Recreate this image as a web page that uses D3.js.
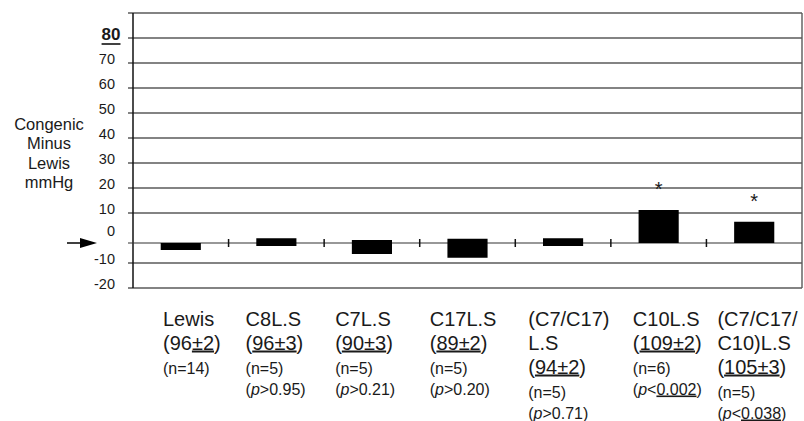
<!DOCTYPE html>
<html>
<head>
<meta charset="utf-8">
<script src="https://cdn.jsdelivr.net/npm/d3@7"></script>
<style>
  body { margin: 0; background: #fff; }
  text { fill: #1a1a1a; }
</style>
</head>
<body>
<script>
// data
const categories = ["Lewis", "C8L.S", "C7L.S", "C17L.S", "(C7/C17)L.S", "C10L.S", "(C7/C17/C10)L.S"];
const nameLines = [["Lewis"], ["C8L.S"], ["C7L.S"], ["C17L.S"], ["(C7/C17)", "L.S"], ["C10L.S"], ["(C7/C17/", "C10)L.S"]];
const meanBP = [96, 96, 90, 89, 94, 109, 105];
const semBP = [2, 3, 3, 2, 2, 2, 3];
const nRats = [14, 5, 5, 5, 5, 6, 5];
const pValues = [null, ">0.95", ">0.21", ">0.20", ">0.71", "<0.002", "<0.038"];
const barHigh = [-2, -0.1, -0.8, -0.3, -0.1, 11.2, 6.5];
const barLow = [-4.8, -3.2, -6.4, -7.9, -3.2, -2, -2];
const significant = [false, false, false, false, false, true, true];
const baselineValue = -2;
const gridValues = [90, 80, 70, 60, 50, 40, 30, 20, 10, -10, -20];
const tickLabels = [80, 70, 60, 50, 40, 30, 20, 10, 0, -10, -20];
const yTitle = ["Congenic", "Minus", "Lewis", "mmHg"];

// layout
const W = 804, H = 421;
const plotLeft = 133, plotRight = 802, plotTop = 13, plotBottom = 288;
const labelDx = [30, 17, 11, 10, 13, 22, 11];

const svg = d3.select("body").append("svg")
    .attr("width", W)
    .attr("height", H)
    .style("font-family", "'Liberation Sans', Arial, sans-serif");

const y = d3.scaleLinear().domain([-20, 90]).range([plotBottom, plotTop]);
const x = d3.scaleBand().domain(categories).range([plotLeft, plotRight]);
const barW = x.bandwidth() * 0.42;

// grid lines
svg.append("g").selectAll("line")
    .data(gridValues)
    .join("line")
    .attr("x1", plotLeft - 5)
    .attr("x2", plotRight)
    .attr("y1", d => y(d))
    .attr("y2", d => y(d))
    .attr("stroke", "#5a5a5a")
    .attr("stroke-width", 1.4);

// frame
svg.append("line")
    .attr("x1", plotLeft).attr("x2", plotLeft)
    .attr("y1", plotTop).attr("y2", plotBottom)
    .attr("stroke", "#111").attr("stroke-width", 1.5);
svg.append("line")
    .attr("x1", plotRight).attr("x2", plotRight)
    .attr("y1", plotTop).attr("y2", plotBottom)
    .attr("stroke", "#5a5a5a").attr("stroke-width", 1.4);

// baseline with category separators
const y0 = y(baselineValue);
svg.append("line")
    .attr("x1", plotLeft - 5).attr("x2", plotRight)
    .attr("y1", y0).attr("y2", y0)
    .attr("stroke", "#333").attr("stroke-width", 1.2);

svg.append("g").selectAll("line")
    .data(categories.slice(1))
    .join("line")
    .attr("x1", d => x(d)).attr("x2", d => x(d))
    .attr("y1", y0 - 4).attr("y2", y0 + 4)
    .attr("stroke", "#111").attr("stroke-width", 1.5);

// bars
svg.append("g").selectAll("rect")
    .data(categories)
    .join("rect")
    .attr("x", d => x(d) + (x.bandwidth() - barW) / 2)
    .attr("y", (d, i) => y(barHigh[i]))
    .attr("width", barW)
    .attr("height", (d, i) => y(barLow[i]) - y(barHigh[i]))
    .attr("fill", "#000");

// significance stars
svg.append("g").selectAll("text")
    .data(categories.filter((d, i) => significant[i]))
    .join("text")
    .attr("x", d => x(d) + x.bandwidth() / 2)
    .attr("y", d => y(barHigh[categories.indexOf(d)]) - 14)
    .attr("text-anchor", "middle")
    .attr("font-size", 20)
    .text("*");

// y tick labels
const yAxis = d3.axisLeft(y)
    .tickValues(tickLabels)
    .tickSize(0)
    .tickPadding(18)
    .tickFormat(d => String(d));

const yAxisGroup = svg.append("g")
    .attr("transform", `translate(${plotLeft},0)`)
    .call(yAxis);

yAxisGroup.select(".domain").remove();
yAxisGroup.selectAll("text")
    .attr("dy", d => d === 0 ? "-0.2em" : "0")
    .attr("font-size", 14.5)
    .attr("font-family", "'Liberation Sans', Arial, sans-serif")
    .attr("fill", "#1a1a1a");

const top80 = yAxisGroup.selectAll("text").filter(d => d === 80)
    .attr("x", -12.5)
    .attr("dy", "0.1em")
    .attr("font-size", 17)
    .attr("font-weight", "bold");
const bb = top80.node().getBBox();
yAxisGroup.append("line")
    .attr("x1", bb.x).attr("x2", bb.x + bb.width)
    .attr("y1", 44).attr("y2", 44)
    .attr("stroke", "#111").attr("stroke-width", 1.6);

// y title
svg.append("text")
    .attr("text-anchor", "middle")
    .attr("font-size", 16.5)
    .selectAll("tspan")
    .data(yTitle)
    .join("tspan")
    .attr("x", 49)
    .attr("y", (d, i) => 129.5 + i * 19.5)
    .text(d => d);

// arrow pointing at the baseline
svg.append("line")
    .attr("x1", 67).attr("x2", 84)
    .attr("y1", y0).attr("y2", y0)
    .attr("stroke", "#000").attr("stroke-width", 1.5);
svg.append("path")
    .attr("d", `M97,${y0} L80,${y0 - 5} L80,${y0 + 5} Z`)
    .attr("fill", "#000");

// category labels
categories.forEach((c, i) => {
    const lines = [];
    nameLines[i].forEach(t => lines.push({ size: 20, parts: [{ t }] }));
    if (i === 0) {
        lines.push({ size: 20, parts: [{ t: "(" + meanBP[i] }, { t: "±" + semBP[i], u: true }, { t: ")" }] });
    } else {
        lines.push({ size: 20, parts: [{ t: "(" }, { t: meanBP[i] + "±" + semBP[i], u: true }, { t: ")" }] });
    }
    lines.push({ size: 16, parts: [{ t: "(n=" + nRats[i] + ")" }] });
    if (pValues[i]) {
        const p = pValues[i];
        lines.push({
            size: 16, last: true,
            parts: [{ t: "(" }, { t: "p", it: true }, { t: p[0] }, { t: p.slice(1), u: p[0] === "<" }, { t: ")" }]
        });
    }

    let ty = 325.5;
    const g = svg.append("g").attr("transform", `translate(${x(c) + labelDx[i]},0)`);
    lines.forEach((ln, k) => {
        if (k > 0) ty += ln.last ? 21 : 24;
        const txt = g.append("text")
            .attr("x", 0)
            .attr("y", ty)
            .attr("font-size", ln.size);
        ln.parts.forEach(p => {
            const ts = txt.append("tspan").text(p.t);
            if (p.u) ts.style("text-decoration", "underline");
            if (p.it) ts.attr("font-style", "italic");
        });
    });
});
</script>
</body>
</html>
